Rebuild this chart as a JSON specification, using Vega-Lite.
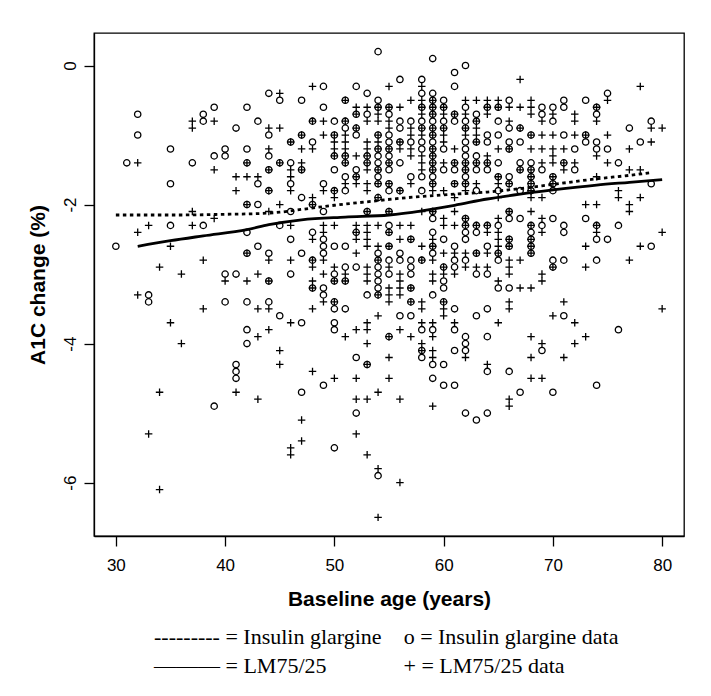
{
"$schema": "https://vega.github.io/schema/vega-lite/v6.json",
"width": 590, "height": 503,
"autosize": {"type": "none"},
"padding": {"left": 94, "top": 33, "right": 27, "bottom": 160},
"background": "white",
"config": {
  "font": "Liberation Sans",
  "view": {"stroke": "black", "strokeWidth": 1.3},
  "axis": {"grid": false, "domainColor": "black", "tickColor": "black", "labelColor": "black", "titleColor": "black", "labelFont": "Liberation Sans", "titleFont": "Liberation Sans", "labelFontSize": 17, "titleFontSize": 21, "titleFontWeight": "bold", "tickSize": 10, "tickWidth": 1.3, "domainWidth": 1.3}
},
"title": {
  "text": ["--------- = Insulin glargine\u00a0\u00a0\u00a0\u00a0o = Insulin glargine data", "\u2014\u2014\u2014 = LM75/25\u00a0\u00a0\u00a0\u00a0\u00a0\u00a0\u00a0\u00a0\u00a0\u00a0\u00a0\u00a0\u00a0\u00a0+ = LM75/25 data"],
  "orient": "bottom", "anchor": "start", "frame": "group", "dx": 60, "offset": 18,
  "font": "Liberation Serif", "fontSize": 22, "fontWeight": "normal", "color": "black", "lineHeight": 29
},
"datasets": {
"glargine": [
{"age":30,"chg":-2.6},{"age":31,"chg":-1.4},{"age":32,"chg":-0.7},{"age":32,"chg":-1.0},{"age":33,"chg":-3.3},{"age":33,"chg":-3.4},
{"age":35,"chg":-1.2},{"age":35,"chg":-1.7},{"age":35,"chg":-2.3},{"age":37,"chg":-1.4},{"age":38,"chg":-0.7},{"age":38,"chg":-0.8},{"age":38,"chg":-2.3},
{"age":39,"chg":-0.6},{"age":39,"chg":-1.3},{"age":39,"chg":-4.9},{"age":40,"chg":-1.2},{"age":40,"chg":-1.3},{"age":40,"chg":-3.0},{"age":40,"chg":-3.4},
{"age":41,"chg":-0.9},{"age":41,"chg":-3.0},{"age":41,"chg":-4.3},{"age":41,"chg":-4.4},{"age":41,"chg":-4.5},
{"age":42,"chg":-0.6},{"age":42,"chg":-1.2},{"age":42,"chg":-1.4},{"age":42,"chg":-2.0},{"age":42,"chg":-2.4},{"age":42,"chg":-2.7},{"age":42,"chg":-3.4},{"age":42,"chg":-3.8},{"age":42,"chg":-4.0},
{"age":43,"chg":-0.8},{"age":43,"chg":-1.7},{"age":43,"chg":-2.0},{"age":43,"chg":-2.6},
{"age":44,"chg":-0.4},{"age":44,"chg":-1.0},{"age":44,"chg":-1.3},{"age":44,"chg":-1.5},{"age":44,"chg":-1.8},{"age":44,"chg":-2.7},{"age":44,"chg":-3.1},{"age":44,"chg":-3.4},
{"age":45,"chg":-0.5},{"age":45,"chg":-1.4},{"age":45,"chg":-2.3},{"age":45,"chg":-3.6},
{"age":46,"chg":-1.1},{"age":46,"chg":-1.4},{"age":46,"chg":-1.7},{"age":46,"chg":-2.1},{"age":46,"chg":-2.5},{"age":46,"chg":-3.0},
{"age":47,"chg":-0.5},{"age":47,"chg":-1.0},{"age":47,"chg":-1.5},{"age":47,"chg":-1.9},{"age":47,"chg":-2.7},{"age":47,"chg":-3.7},{"age":47,"chg":-4.7},
{"age":48,"chg":-0.8},{"age":48,"chg":-1.1},{"age":48,"chg":-2.0},{"age":48,"chg":-2.4},{"age":48,"chg":-2.8},{"age":48,"chg":-3.2},
{"age":49,"chg":-0.3},{"age":49,"chg":-0.6},{"age":49,"chg":-1.7},{"age":49,"chg":-2.1},{"age":49,"chg":-2.5},{"age":49,"chg":-2.6},{"age":49,"chg":-2.7},{"age":49,"chg":-3.2},{"age":49,"chg":-3.3},{"age":49,"chg":-4.6},
{"age":50,"chg":-0.8},{"age":50,"chg":-1.0},{"age":50,"chg":-1.3},{"age":50,"chg":-1.5},{"age":50,"chg":-1.8},{"age":50,"chg":-2.6},{"age":50,"chg":-3.0},{"age":50,"chg":-3.1},{"age":50,"chg":-3.4},{"age":50,"chg":-3.5},{"age":50,"chg":-3.7},{"age":50,"chg":-3.8},{"age":50,"chg":-5.5},
{"age":51,"chg":-0.5},{"age":51,"chg":-0.8},{"age":51,"chg":-0.9},{"age":51,"chg":-1.3},{"age":51,"chg":-1.4},{"age":51,"chg":-1.6},{"age":51,"chg":-1.8},{"age":51,"chg":-2.6},{"age":51,"chg":-2.9},{"age":51,"chg":-3.1},{"age":51,"chg":-3.5},
{"age":52,"chg":-0.3},{"age":52,"chg":-0.7},{"age":52,"chg":-0.9},{"age":52,"chg":-1.0},{"age":52,"chg":-1.5},{"age":52,"chg":-1.6},{"age":52,"chg":-2.4},{"age":52,"chg":-2.9},{"age":52,"chg":-4.2},{"age":52,"chg":-5.0},
{"age":53,"chg":-0.4},{"age":53,"chg":-0.7},{"age":53,"chg":-1.3},{"age":53,"chg":-1.4},{"age":53,"chg":-2.1},{"age":53,"chg":-3.3},{"age":53,"chg":-4.3},
{"age":54,"chg":0.2},{"age":54,"chg":-0.5},{"age":54,"chg":-0.6},{"age":54,"chg":-1.0},{"age":54,"chg":-1.2},{"age":54,"chg":-1.3},{"age":54,"chg":-1.4},{"age":54,"chg":-1.5},{"age":54,"chg":-1.6},{"age":54,"chg":-1.7},{"age":54,"chg":-1.9},{"age":54,"chg":-2.7},{"age":54,"chg":-2.8},{"age":54,"chg":-2.9},{"age":54,"chg":-3.0},{"age":54,"chg":-3.1},{"age":54,"chg":-3.2},{"age":54,"chg":-3.3},{"age":54,"chg":-5.9},
{"age":55,"chg":-0.6},{"age":55,"chg":-0.7},{"age":55,"chg":-1.0},{"age":55,"chg":-1.1},{"age":55,"chg":-1.2},{"age":55,"chg":-1.3},{"age":55,"chg":-1.4},{"age":55,"chg":-1.5},{"age":55,"chg":-1.7},{"age":55,"chg":-1.8},{"age":55,"chg":-2.1},{"age":55,"chg":-2.3},{"age":55,"chg":-2.4},{"age":55,"chg":-2.6},{"age":55,"chg":-2.8},{"age":55,"chg":-3.0},{"age":55,"chg":-3.9},
{"age":56,"chg":-0.2},{"age":56,"chg":-0.8},{"age":56,"chg":-0.9},{"age":56,"chg":-1.1},{"age":56,"chg":-1.4},{"age":56,"chg":-1.8},{"age":56,"chg":-2.7},{"age":56,"chg":-2.8},{"age":56,"chg":-3.6},
{"age":57,"chg":-0.8},{"age":57,"chg":-1.1},{"age":57,"chg":-1.6},{"age":57,"chg":-2.5},{"age":57,"chg":-2.8},{"age":57,"chg":-2.9},{"age":57,"chg":-3.0},{"age":57,"chg":-3.2},{"age":57,"chg":-3.4},{"age":57,"chg":-3.6},
{"age":58,"chg":-0.2},{"age":58,"chg":-0.4},{"age":58,"chg":-0.6},{"age":58,"chg":-0.8},{"age":58,"chg":-0.9},{"age":58,"chg":-1.1},{"age":58,"chg":-1.2},{"age":58,"chg":-1.6},{"age":58,"chg":-1.8},{"age":58,"chg":-2.8},{"age":58,"chg":-3.8},{"age":58,"chg":-4.1},{"age":58,"chg":-4.2},
{"age":59,"chg":0.1},{"age":59,"chg":-0.4},{"age":59,"chg":-0.5},{"age":59,"chg":-0.6},{"age":59,"chg":-0.7},{"age":59,"chg":-0.8},{"age":59,"chg":-0.9},{"age":59,"chg":-1.0},{"age":59,"chg":-1.1},{"age":59,"chg":-1.2},{"age":59,"chg":-1.3},{"age":59,"chg":-1.4},{"age":59,"chg":-1.5},{"age":59,"chg":-1.6},{"age":59,"chg":-1.7},{"age":59,"chg":-2.1},{"age":59,"chg":-2.2},{"age":59,"chg":-2.4},{"age":59,"chg":-2.6},{"age":59,"chg":-2.7},{"age":59,"chg":-3.3},{"age":59,"chg":-3.8},{"age":59,"chg":-4.3},{"age":59,"chg":-4.5},
{"age":60,"chg":-0.5},{"age":60,"chg":-0.6},{"age":60,"chg":-0.8},{"age":60,"chg":-0.9},{"age":60,"chg":-1.2},{"age":60,"chg":-1.5},{"age":60,"chg":-2.5},{"age":60,"chg":-2.9},{"age":60,"chg":-3.1},{"age":60,"chg":-3.2},{"age":60,"chg":-3.4},{"age":60,"chg":-4.3},{"age":60,"chg":-4.6},
{"age":61,"chg":-0.1},{"age":61,"chg":-0.3},{"age":61,"chg":-0.7},{"age":61,"chg":-0.8},{"age":61,"chg":-1.4},{"age":61,"chg":-1.5},{"age":61,"chg":-1.7},{"age":61,"chg":-2.6},{"age":61,"chg":-2.8},{"age":61,"chg":-2.9},{"age":61,"chg":-3.5},{"age":61,"chg":-3.8},{"age":61,"chg":-4.1},{"age":61,"chg":-4.6},
{"age":62,"chg":0.0},{"age":62,"chg":-0.6},{"age":62,"chg":-0.8},{"age":62,"chg":-0.9},{"age":62,"chg":-1.1},{"age":62,"chg":-1.2},{"age":62,"chg":-1.3},{"age":62,"chg":-1.4},{"age":62,"chg":-1.5},{"age":62,"chg":-1.6},{"age":62,"chg":-1.7},{"age":62,"chg":-2.2},{"age":62,"chg":-2.3},{"age":62,"chg":-2.4},{"age":62,"chg":-2.5},{"age":62,"chg":-2.8},{"age":62,"chg":-3.9},{"age":62,"chg":-4.0},{"age":62,"chg":-4.1},{"age":62,"chg":-5.0},
{"age":63,"chg":-0.7},{"age":63,"chg":-0.8},{"age":63,"chg":-1.1},{"age":63,"chg":-1.3},{"age":63,"chg":-1.4},{"age":63,"chg":-1.5},{"age":63,"chg":-1.8},{"age":63,"chg":-2.3},{"age":63,"chg":-2.4},{"age":63,"chg":-2.7},{"age":63,"chg":-3.0},{"age":63,"chg":-3.6},{"age":63,"chg":-5.1},
{"age":64,"chg":-0.6},{"age":64,"chg":-1.0},{"age":64,"chg":-1.1},{"age":64,"chg":-1.4},{"age":64,"chg":-1.5},{"age":64,"chg":-2.3},{"age":64,"chg":-2.6},{"age":64,"chg":-3.0},{"age":64,"chg":-3.5},{"age":64,"chg":-3.9},{"age":64,"chg":-4.4},{"age":64,"chg":-5.0},
{"age":65,"chg":-0.6},{"age":65,"chg":-0.8},{"age":65,"chg":-1.0},{"age":65,"chg":-1.4},{"age":65,"chg":-1.6},{"age":65,"chg":-1.8},{"age":65,"chg":-2.3},{"age":65,"chg":-2.7},{"age":65,"chg":-2.8},{"age":65,"chg":-3.2},
{"age":66,"chg":-0.5},{"age":66,"chg":-0.9},{"age":66,"chg":-1.1},{"age":66,"chg":-1.2},{"age":66,"chg":-1.6},{"age":66,"chg":-1.7},{"age":66,"chg":-2.1},{"age":66,"chg":-2.2},{"age":66,"chg":-2.5},{"age":66,"chg":-2.6},{"age":66,"chg":-3.2},{"age":66,"chg":-4.4},
{"age":67,"chg":-0.9},{"age":67,"chg":-1.1},{"age":67,"chg":-1.4},{"age":67,"chg":-1.5},{"age":67,"chg":-1.8},{"age":67,"chg":-2.2},{"age":67,"chg":-4.7},
{"age":68,"chg":-1.0},{"age":68,"chg":-1.4},{"age":68,"chg":-1.5},{"age":68,"chg":-1.6},{"age":68,"chg":-1.7},{"age":68,"chg":-1.8},{"age":68,"chg":-2.3},{"age":68,"chg":-2.4},{"age":68,"chg":-2.5},{"age":68,"chg":-2.6},{"age":68,"chg":-2.7},
{"age":69,"chg":-0.6},{"age":69,"chg":-0.7},{"age":69,"chg":-1.5},{"age":69,"chg":-2.3},{"age":69,"chg":-4.1},
{"age":70,"chg":-0.6},{"age":70,"chg":-0.8},{"age":70,"chg":-1.6},{"age":70,"chg":-1.7},{"age":70,"chg":-1.8},{"age":70,"chg":-2.2},{"age":70,"chg":-2.8},{"age":70,"chg":-2.9},{"age":70,"chg":-4.7},
{"age":71,"chg":-0.5},{"age":71,"chg":-0.6},{"age":71,"chg":-1.0},{"age":71,"chg":-1.4},{"age":71,"chg":-2.3},{"age":71,"chg":-2.4},{"age":71,"chg":-2.8},{"age":71,"chg":-3.6},
{"age":72,"chg":-1.2},{"age":72,"chg":-1.5},
{"age":73,"chg":-0.5},{"age":73,"chg":-1.0},{"age":73,"chg":-1.1},{"age":73,"chg":-2.2},
{"age":74,"chg":-0.6},{"age":74,"chg":-0.7},{"age":74,"chg":-1.1},{"age":74,"chg":-1.2},{"age":74,"chg":-2.3},{"age":74,"chg":-2.5},{"age":74,"chg":-2.8},{"age":74,"chg":-4.6},
{"age":75,"chg":-0.4},{"age":75,"chg":-1.2},{"age":75,"chg":-2.5},
{"age":76,"chg":-1.4},{"age":76,"chg":-2.3},{"age":76,"chg":-3.8},
{"age":77,"chg":-0.9},{"age":78,"chg":-1.1},
{"age":79,"chg":-0.8},{"age":79,"chg":-1.7},{"age":79,"chg":-2.6}
],
"lm": [
{"age":32,"chg":-1.4},{"age":32,"chg":-2.4},{"age":32,"chg":-3.3},{"age":33,"chg":-2.3},{"age":33,"chg":-5.3},
{"age":34,"chg":-2.9},{"age":34,"chg":-4.7},{"age":34,"chg":-6.1},{"age":35,"chg":-2.6},{"age":35,"chg":-3.7},{"age":36,"chg":-3.0},{"age":36,"chg":-4.0},
{"age":37,"chg":-0.8},{"age":37,"chg":-0.9},{"age":37,"chg":-2.1},{"age":37,"chg":-2.3},{"age":38,"chg":-2.8},{"age":38,"chg":-3.5},
{"age":39,"chg":-0.8},{"age":39,"chg":-1.5},{"age":39,"chg":-2.2},{"age":40,"chg":-3.1},{"age":41,"chg":-1.6},{"age":41,"chg":-1.8},{"age":41,"chg":-4.7},
{"age":42,"chg":-1.4},{"age":42,"chg":-1.6},{"age":42,"chg":-2.0},{"age":42,"chg":-2.7},{"age":42,"chg":-3.1},
{"age":43,"chg":-1.6},{"age":43,"chg":-3.0},{"age":43,"chg":-3.5},{"age":43,"chg":-3.9},{"age":43,"chg":-4.8},
{"age":44,"chg":-0.9},{"age":44,"chg":-1.2},{"age":44,"chg":-1.5},{"age":44,"chg":-1.8},{"age":44,"chg":-2.1},{"age":44,"chg":-2.8},{"age":44,"chg":-3.1},{"age":44,"chg":-3.5},{"age":44,"chg":-3.8},
{"age":45,"chg":-0.4},{"age":45,"chg":-0.9},{"age":45,"chg":-1.4},{"age":45,"chg":-2.0},{"age":45,"chg":-4.1},{"age":45,"chg":-4.3},
{"age":46,"chg":-1.1},{"age":46,"chg":-1.5},{"age":46,"chg":-1.6},{"age":46,"chg":-1.8},{"age":46,"chg":-2.3},{"age":46,"chg":-2.8},{"age":46,"chg":-3.7},{"age":46,"chg":-5.5},{"age":46,"chg":-5.6},
{"age":47,"chg":-1.0},{"age":47,"chg":-1.2},{"age":47,"chg":-1.4},{"age":47,"chg":-1.5},{"age":47,"chg":-5.1},{"age":47,"chg":-5.4},
{"age":48,"chg":-0.3},{"age":48,"chg":-0.8},{"age":48,"chg":-1.2},{"age":48,"chg":-1.9},{"age":48,"chg":-2.0},{"age":48,"chg":-2.5},{"age":48,"chg":-2.8},{"age":48,"chg":-2.9},{"age":48,"chg":-3.1},{"age":48,"chg":-3.2},{"age":48,"chg":-3.5},{"age":48,"chg":-4.4},
{"age":49,"chg":-0.8},{"age":49,"chg":-1.0},{"age":49,"chg":-1.8},{"age":49,"chg":-2.3},{"age":49,"chg":-2.4},{"age":49,"chg":-2.8},{"age":49,"chg":-3.0},{"age":49,"chg":-3.4},
{"age":50,"chg":-1.0},{"age":50,"chg":-1.1},{"age":50,"chg":-1.2},{"age":50,"chg":-1.3},{"age":50,"chg":-1.8},{"age":50,"chg":-1.9},{"age":50,"chg":-2.3},{"age":50,"chg":-2.9},{"age":50,"chg":-3.1},{"age":50,"chg":-3.4},{"age":50,"chg":-4.5},
{"age":51,"chg":-0.5},{"age":51,"chg":-0.8},{"age":51,"chg":-1.0},{"age":51,"chg":-1.1},{"age":51,"chg":-1.2},{"age":51,"chg":-1.3},{"age":51,"chg":-1.4},{"age":51,"chg":-1.7},{"age":51,"chg":-3.0},{"age":51,"chg":-3.1},{"age":51,"chg":-3.9},
{"age":52,"chg":-0.6},{"age":52,"chg":-0.7},{"age":52,"chg":-0.9},{"age":52,"chg":-1.3},{"age":52,"chg":-1.6},{"age":52,"chg":-1.7},{"age":52,"chg":-2.3},{"age":52,"chg":-2.4},{"age":52,"chg":-2.5},{"age":52,"chg":-2.7},{"age":52,"chg":-3.8},{"age":52,"chg":-4.5},{"age":52,"chg":-4.8},{"age":52,"chg":-5.3},
{"age":53,"chg":-0.6},{"age":53,"chg":-0.8},{"age":53,"chg":-1.1},{"age":53,"chg":-1.2},{"age":53,"chg":-1.3},{"age":53,"chg":-1.4},{"age":53,"chg":-1.5},{"age":53,"chg":-1.7},{"age":53,"chg":-1.8},{"age":53,"chg":-2.1},{"age":53,"chg":-2.3},{"age":53,"chg":-2.4},{"age":53,"chg":-2.5},{"age":53,"chg":-2.6},{"age":53,"chg":-2.9},{"age":53,"chg":-3.0},{"age":53,"chg":-3.1},{"age":53,"chg":-3.7},{"age":53,"chg":-3.8},{"age":53,"chg":-4.0},{"age":53,"chg":-4.3},{"age":53,"chg":-4.8},{"age":53,"chg":-5.6},
{"age":54,"chg":-0.6},{"age":54,"chg":-0.7},{"age":54,"chg":-0.8},{"age":54,"chg":-1.0},{"age":54,"chg":-1.1},{"age":54,"chg":-1.2},{"age":54,"chg":-1.5},{"age":54,"chg":-1.7},{"age":54,"chg":-1.9},{"age":54,"chg":-2.3},{"age":54,"chg":-2.6},{"age":54,"chg":-2.8},{"age":54,"chg":-3.3},{"age":54,"chg":-3.6},{"age":54,"chg":-4.7},{"age":54,"chg":-5.8},{"age":54,"chg":-6.5},
{"age":55,"chg":-0.3},{"age":55,"chg":-0.6},{"age":55,"chg":-0.8},{"age":55,"chg":-0.9},{"age":55,"chg":-1.2},{"age":55,"chg":-1.4},{"age":55,"chg":-1.7},{"age":55,"chg":-2.1},{"age":55,"chg":-2.4},{"age":55,"chg":-2.6},{"age":55,"chg":-2.9},{"age":55,"chg":-3.2},{"age":55,"chg":-3.3},{"age":55,"chg":-3.4},{"age":55,"chg":-3.9},{"age":55,"chg":-4.2},{"age":55,"chg":-4.5},
{"age":56,"chg":-0.6},{"age":56,"chg":-1.1},{"age":56,"chg":-1.2},{"age":56,"chg":-1.8},{"age":56,"chg":-2.3},{"age":56,"chg":-2.5},{"age":56,"chg":-3.0},{"age":56,"chg":-3.1},{"age":56,"chg":-3.2},{"age":56,"chg":-3.3},{"age":56,"chg":-3.8},{"age":56,"chg":-4.8},{"age":56,"chg":-6.0},
{"age":57,"chg":-0.5},{"age":57,"chg":-0.9},{"age":57,"chg":-1.0},{"age":57,"chg":-1.2},{"age":57,"chg":-1.3},{"age":57,"chg":-1.7},{"age":57,"chg":-2.3},{"age":57,"chg":-2.5},{"age":57,"chg":-3.2},{"age":57,"chg":-3.4},{"age":57,"chg":-3.9},
{"age":58,"chg":-0.3},{"age":58,"chg":-0.5},{"age":58,"chg":-0.6},{"age":58,"chg":-0.7},{"age":58,"chg":-0.9},{"age":58,"chg":-1.0},{"age":58,"chg":-1.3},{"age":58,"chg":-1.4},{"age":58,"chg":-1.5},{"age":58,"chg":-2.1},{"age":58,"chg":-2.6},{"age":58,"chg":-2.8},{"age":58,"chg":-3.4},{"age":58,"chg":-3.5},{"age":58,"chg":-3.7},{"age":58,"chg":-4.0},{"age":58,"chg":-4.1},
{"age":59,"chg":-0.5},{"age":59,"chg":-0.6},{"age":59,"chg":-0.7},{"age":59,"chg":-0.9},{"age":59,"chg":-1.0},{"age":59,"chg":-1.2},{"age":59,"chg":-1.3},{"age":59,"chg":-1.4},{"age":59,"chg":-1.5},{"age":59,"chg":-1.7},{"age":59,"chg":-1.8},{"age":59,"chg":-2.1},{"age":59,"chg":-2.5},{"age":59,"chg":-2.6},{"age":59,"chg":-2.8},{"age":59,"chg":-3.0},{"age":59,"chg":-3.1},{"age":59,"chg":-3.7},{"age":59,"chg":-3.9},{"age":59,"chg":-4.1},{"age":59,"chg":-4.2},{"age":59,"chg":-4.9},
{"age":60,"chg":-0.6},{"age":60,"chg":-0.7},{"age":60,"chg":-0.9},{"age":60,"chg":-1.0},{"age":60,"chg":-1.1},{"age":60,"chg":-1.4},{"age":60,"chg":-1.8},{"age":60,"chg":-2.2},{"age":60,"chg":-2.3},{"age":60,"chg":-2.7},{"age":60,"chg":-2.9},{"age":60,"chg":-3.0},{"age":60,"chg":-3.4},{"age":60,"chg":-3.5},{"age":60,"chg":-3.6},
{"age":61,"chg":-0.7},{"age":61,"chg":-1.2},{"age":61,"chg":-1.4},{"age":61,"chg":-1.7},{"age":61,"chg":-1.9},{"age":61,"chg":-2.1},{"age":61,"chg":-2.3},{"age":61,"chg":-2.7},{"age":61,"chg":-3.0},{"age":61,"chg":-3.7},
{"age":62,"chg":-0.5},{"age":62,"chg":-0.7},{"age":62,"chg":-0.9},{"age":62,"chg":-1.0},{"age":62,"chg":-1.4},{"age":62,"chg":-1.5},{"age":62,"chg":-1.7},{"age":62,"chg":-1.8},{"age":62,"chg":-2.2},{"age":62,"chg":-2.3},{"age":62,"chg":-2.7},{"age":62,"chg":-2.9},{"age":62,"chg":-4.2},
{"age":63,"chg":-0.5},{"age":63,"chg":-0.8},{"age":63,"chg":-0.9},{"age":63,"chg":-1.0},{"age":63,"chg":-1.1},{"age":63,"chg":-1.4},{"age":63,"chg":-1.7},{"age":63,"chg":-2.3},{"age":63,"chg":-2.7},{"age":63,"chg":-2.9},
{"age":64,"chg":-0.5},{"age":64,"chg":-0.6},{"age":64,"chg":-0.7},{"age":64,"chg":-1.3},{"age":64,"chg":-1.4},{"age":64,"chg":-2.3},{"age":64,"chg":-2.4},{"age":64,"chg":-2.7},{"age":64,"chg":-2.9},{"age":64,"chg":-4.3},
{"age":65,"chg":-0.5},{"age":65,"chg":-0.6},{"age":65,"chg":-1.2},{"age":65,"chg":-1.6},{"age":65,"chg":-1.7},{"age":65,"chg":-1.9},{"age":65,"chg":-2.2},{"age":65,"chg":-2.4},{"age":65,"chg":-2.5},{"age":65,"chg":-2.6},{"age":65,"chg":-2.7},{"age":65,"chg":-3.1},{"age":65,"chg":-3.7},
{"age":66,"chg":-0.6},{"age":66,"chg":-0.8},{"age":66,"chg":-1.2},{"age":66,"chg":-1.7},{"age":66,"chg":-2.1},{"age":66,"chg":-2.5},{"age":66,"chg":-2.6},{"age":66,"chg":-2.8},{"age":66,"chg":-2.9},{"age":66,"chg":-3.0},{"age":66,"chg":-3.4},{"age":66,"chg":-3.5},{"age":66,"chg":-4.8},{"age":66,"chg":-4.9},
{"age":67,"chg":-0.2},{"age":67,"chg":-0.6},{"age":67,"chg":-0.9},{"age":67,"chg":-1.5},{"age":67,"chg":-2.8},{"age":67,"chg":-3.2},
{"age":68,"chg":-0.5},{"age":68,"chg":-0.6},{"age":68,"chg":-0.7},{"age":68,"chg":-1.0},{"age":68,"chg":-1.2},{"age":68,"chg":-1.5},{"age":68,"chg":-1.6},{"age":68,"chg":-1.7},{"age":68,"chg":-1.8},{"age":68,"chg":-1.9},{"age":68,"chg":-2.1},{"age":68,"chg":-2.3},{"age":68,"chg":-2.5},{"age":68,"chg":-2.6},{"age":68,"chg":-2.7},{"age":68,"chg":-3.2},{"age":68,"chg":-3.9},{"age":68,"chg":-4.2},{"age":68,"chg":-4.5},
{"age":69,"chg":-0.8},{"age":69,"chg":-1.0},{"age":69,"chg":-1.2},{"age":69,"chg":-1.4},{"age":69,"chg":-1.9},{"age":69,"chg":-2.2},{"age":69,"chg":-2.4},{"age":69,"chg":-3.0},{"age":69,"chg":-3.1},{"age":69,"chg":-4.0},{"age":69,"chg":-4.5},
{"age":70,"chg":-0.7},{"age":70,"chg":-1.0},{"age":70,"chg":-1.2},{"age":70,"chg":-1.3},{"age":70,"chg":-1.4},{"age":70,"chg":-1.6},{"age":70,"chg":-1.7},{"age":70,"chg":-2.9},{"age":70,"chg":-3.6},
{"age":71,"chg":-1.2},{"age":71,"chg":-1.4},{"age":71,"chg":-1.5},{"age":71,"chg":-3.4},{"age":71,"chg":-4.2},
{"age":72,"chg":-0.7},{"age":72,"chg":-0.8},{"age":72,"chg":-1.0},{"age":72,"chg":-1.4},{"age":72,"chg":-3.7},{"age":72,"chg":-4.0},
{"age":73,"chg":-1.0},{"age":73,"chg":-2.0},{"age":73,"chg":-2.6},{"age":73,"chg":-2.9},{"age":73,"chg":-3.9},
{"age":74,"chg":-0.6},{"age":74,"chg":-0.8},{"age":74,"chg":-1.3},{"age":74,"chg":-1.6},{"age":74,"chg":-2.0},{"age":74,"chg":-2.3},{"age":74,"chg":-2.4},
{"age":75,"chg":-0.5},{"age":75,"chg":-1.0},{"age":75,"chg":-1.4},
{"age":76,"chg":-1.8},{"age":76,"chg":-1.9},
{"age":77,"chg":-1.2},{"age":77,"chg":-1.5},{"age":77,"chg":-2.0},{"age":77,"chg":-2.1},{"age":77,"chg":-2.8},
{"age":78,"chg":-0.3},{"age":78,"chg":-1.5},{"age":78,"chg":-1.9},{"age":78,"chg":-2.6},
{"age":79,"chg":-0.9},{"age":79,"chg":-1.1},
{"age":80,"chg":-0.9},{"age":80,"chg":-2.4},{"age":80,"chg":-3.5}
],
"gfit": [
{"age":30,"chg":-2.15},{"age":33,"chg":-2.15},{"age":36,"chg":-2.15},{"age":40,"chg":-2.14},{"age":43,"chg":-2.13},{"age":45,"chg":-2.11},{"age":47,"chg":-2.07},{"age":50,"chg":-2.01},{"age":53,"chg":-1.96},{"age":56,"chg":-1.91},{"age":60,"chg":-1.86},{"age":64,"chg":-1.82},{"age":67,"chg":-1.77},{"age":70,"chg":-1.71},{"age":74,"chg":-1.63},{"age":77,"chg":-1.58},{"age":79,"chg":-1.54}
],
"lfit": [
{"age":32,"chg":-2.6},{"age":35,"chg":-2.52},{"age":38,"chg":-2.45},{"age":42,"chg":-2.36},{"age":44,"chg":-2.29},{"age":47,"chg":-2.22},{"age":51,"chg":-2.18},{"age":55,"chg":-2.15},{"age":58,"chg":-2.09},{"age":61,"chg":-2.01},{"age":64,"chg":-1.92},{"age":67,"chg":-1.85},{"age":70,"chg":-1.79},{"age":74,"chg":-1.72},{"age":77,"chg":-1.68},{"age":80,"chg":-1.64}
]
},
"layer": [
{
  "data": {"name": "glargine"},
  "mark": {"type": "point", "shape": "circle", "filled": false, "stroke": "black", "strokeWidth": 1.3, "size": 40, "opacity": 1},
  "encoding": {
    "x": {"field": "age", "type": "quantitative", "scale": {"domain": [28, 82], "nice": false, "zero": false},
          "axis": {"values": [30, 40, 50, 60, 70, 80], "title": "Baseline age (years)", "labelPadding": 11, "titlePadding": 15}},
    "y": {"field": "chg", "type": "quantitative", "scale": {"domain": [-6.768, 0.468], "nice": false, "zero": false},
          "axis": {"values": [0, -2, -4, -6], "title": "A1C change (%)", "labelAngle": -90, "labelAlign": "center", "labelBaseline": "alphabetic", "labelPadding": 9, "titlePadding": 13, "labelExpr": "'' + datum.value"}}
  }
},
{
  "data": {"name": "lm"},
  "mark": {"type": "point", "shape": "M-1,0L1,0M0,-1L0,1", "filled": false, "stroke": "black", "strokeWidth": 1.3, "size": 56, "opacity": 1},
  "encoding": {
    "x": {"field": "age", "type": "quantitative"},
    "y": {"field": "chg", "type": "quantitative"}
  }
},
{
  "data": {"name": "gfit"},
  "mark": {"type": "line", "color": "black", "strokeWidth": 2.8, "strokeDash": [3.5, 3.5], "interpolate": "monotone"},
  "encoding": {
    "x": {"field": "age", "type": "quantitative"},
    "y": {"field": "chg", "type": "quantitative"}
  }
},
{
  "data": {"name": "lfit"},
  "mark": {"type": "line", "color": "black", "strokeWidth": 2.8, "interpolate": "monotone"},
  "encoding": {
    "x": {"field": "age", "type": "quantitative"},
    "y": {"field": "chg", "type": "quantitative"}
  }
}
]
}
